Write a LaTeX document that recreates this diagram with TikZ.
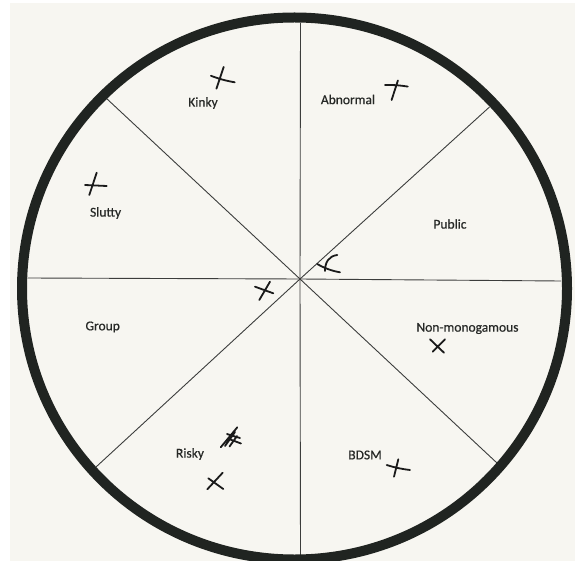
\documentclass[tikz,border=0pt]{standalone}
\usepackage{fontspec}
\setmainfont{Carlito}
\newfontfamily\labfont{Carlito}[FakeBold=0.5]
\usepackage{tikz}
\definecolor{paper}{HTML}{F7F6F1}
\definecolor{ink}{HTML}{262826}
\definecolor{rimc}{HTML}{202421}
\definecolor{penc}{HTML}{1A1A1A}

\begin{document}
\begin{tikzpicture}[x=1pt,y=-1pt,font=\labfont\fontsize{13.5}{16}\selectfont,
      lab/.style={text=ink,inner sep=0pt},
      spoke/.style={draw=ink!90,line width=0.9pt},
      rim/.style={draw=rimc,line width=10pt},
      pen/.style={draw=penc,line width=1.8pt,line cap=round,line join=round}]
    \fill[white] (0,0) rectangle (575,561);
    \fill[paper] (10,3) rectangle (575,561);
    \useasboundingbox (0,0) rectangle (575,561);
    \coordinate (c) at (300,279);
    \foreach \n/\x/\y in {n/300.5/23,ne/489.5/107,e/561/281,se/497/463,
                          s/300.5/555,sw/96/467,w/27.5/278,nw/106/98}{
      \coordinate (\n) at (\x,\y);}
    \foreach \n in {n,ne,e,se,s,sw,w,nw}{\draw[spoke] (c) -- (\n);}
    \draw[rim] (294.5,288.5) ellipse [x radius=272.5,y radius=271];
    \node[lab] (kinky) at (203,103) {Kinky};
    \node[lab] (abnormal) at (348,99.5) {Abnormal};
    \node[lab] (slutty) at (105.6,213) {Slutty};
    \node[lab] (public) at (450,224) {Public};
    \node[lab] (group) at (102.7,327) {Group};
    \node[lab] (nonmono) at (467.5,328.5) {Non-monogamous};
    \node[lab] (risky) at (190,454) {Risky};
    \node[lab] (bdsm) at (365,455) {BDSM};
    \draw[pen] (223.7,66.9) -- (216.4,88.7) (210.9,75.8) to[bend right=5] (234.7,82.3);
    \draw[pen] (397.9,80.5) -- (391.6,100) (385,85) to[bend left=5] (407.8,86.6);
    \draw[pen] (96.7,172.7) -- (89.3,195) (85,185) -- (106.7,186);
    \draw[pen] (337.3,255) .. controls (329,256) and (325,262) .. (325,271)
               (317.3,264) .. controls (324,268) and (332,271) .. (340,272.3);
    \draw[pen] (270,281.7) -- (259.3,300) (255,286.7) -- (273.3,293.3);
    \draw[pen] (430,339.3) -- (444,352.7) (432.7,351.7) -- (445,339.3);
    \draw[pen] (398.3,459.3) -- (394,476.7) (386.7,465) to[bend right=5] (410,470);
    \draw[pen] (237.3,427.3) -- (220.7,447.3) (225,446) -- (235,432)
               (229.5,446.5) -- (237,436) (227,434) -- (240,438)
               (229,439) -- (241,443.5);
    \draw[pen] (222.7,472.7) -- (207.3,489.3) (208.3,478.3) -- (223.3,489);
  \end{tikzpicture}
\end{document}
